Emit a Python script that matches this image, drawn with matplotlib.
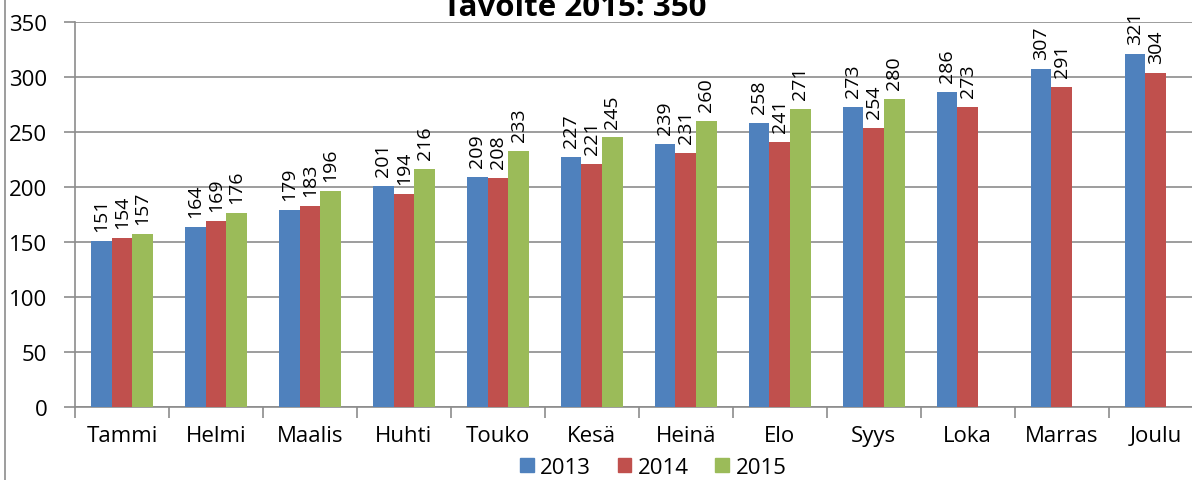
import numpy as np
import matplotlib.pyplot as plt
from matplotlib.lines import Line2D

plt.rcParams['font.family'] = ['Open Sans', 'DejaVu Sans']

kuukaudet = ["Tammi", "Helmi", "Maalis", "Huhti", "Touko", "Kesä",
             "Heinä", "Elo", "Syys", "Loka", "Marras", "Joulu"]
v2013 = [151, 164, 179, 201, 209, 227, 239, 258, 273, 286, 307, 321]
v2014 = [154, 169, 183, 194, 208, 221, 231, 241, 254, 273, 291, 304]
v2015 = [157, 176, 196, 216, 233, 245, 260, 271, 280]
vuodet = ["2013", "2014", "2015"]
varit = ["#4F81BD", "#C0504D", "#9BBB59"]

fig = plt.figure(figsize=(11.92, 4.81), dpi=100)
ax = fig.add_axes([0.0629, 0.1518, 0.946, 0.8004])

x = np.arange(len(kuukaudet))
w = 0.22
sarjat = [v2013, v2014, v2015]
for i, (data, vari) in enumerate(zip(sarjat, varit)):
    xs = x[:len(data)] + (i - 1) * w
    bars = ax.bar(xs, data, width=w, color=vari, zorder=3, label=vuodet[i])
    for b, v in zip(bars, data):
        ax.text(b.get_x() + b.get_width() / 2, v + 9, str(v), rotation=90,
                ha="center", va="bottom", fontsize=14)

ax.set_xlim(-0.5, len(kuukaudet) - 0.5)
ax.set_ylim(0, 350)
ax.set_yticks(range(0, 351, 50))
ax.yaxis.grid(True, color="#8c8c8c", linewidth=1.2, zorder=0)
ax.tick_params(axis="y", labelsize=16, length=8, color="#8c8c8c", width=1.2, pad=12)
ax.set_xticks(np.arange(-0.5, len(kuukaudet), 1))
ax.set_xticklabels([])
ax.tick_params(axis="x", length=8, color="#8c8c8c", width=1.2)
for i, k in enumerate(kuukaudet):
    ax.text(i, -16, k, ha="center", va="top", fontsize=16)
for s in ["top", "right"]:
    ax.spines[s].set_visible(False)
for s in ["left", "bottom"]:
    ax.spines[s].set_color("#8c8c8c")
    ax.spines[s].set_linewidth(1.2)

fig.text(0.4825, 0.966, "Tavoite 2015: 350", ha="center", va="baseline",
         fontsize=22.5, fontweight="bold")

# reunaviiva vasemmalla
fig.add_artist(Line2D([0.0045, 0.0045], [0, 1], color="#8c8c8c", linewidth=1.2))

kahvat = [plt.Rectangle((0, 0), 1, 1, color=c) for c in varit]
fig.legend(kahvat, vuodet, loc="center", bbox_to_anchor=(0.548, 0.027), ncol=3,
           frameon=False, fontsize=16, handlelength=0.6, handleheight=0.6,
           handletextpad=0.3, columnspacing=1.2)

fig.savefig("out.png", dpi=100)
